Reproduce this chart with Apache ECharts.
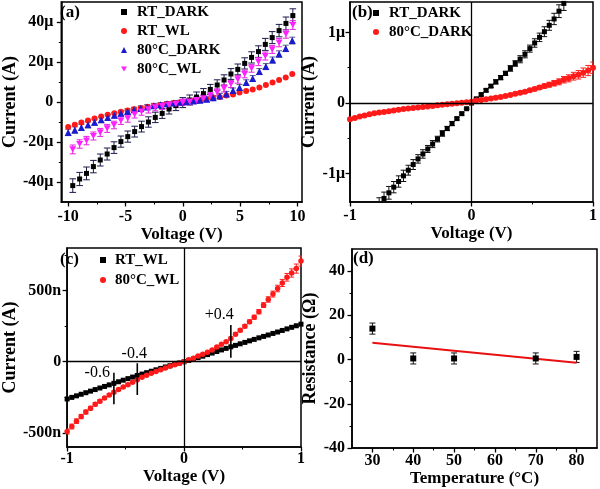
<!DOCTYPE html>
<html><head><meta charset="utf-8">
<script src="https://cdn.jsdelivr.net/npm/echarts@6.0.0/dist/echarts.min.js"></script>
<style>html,body{margin:0;padding:0;background:#fff}#c{width:600px;height:489px}</style>
</head><body><div id="c"></div>
<script>
// ---------- Panel (a) ----------
const voltsA_dark = [-9.6,-9.0,-8.4,-7.8,-7.2,-6.6,-6.0,-5.4,-4.8,-4.2,-3.6,-3.0,-2.4,-1.8,-1.2,-0.6,0,0.6,1.2,1.8,2.4,3.0,3.6,4.2,4.8,5.4,6.0,6.6,7.2,7.8,8.4,9.0,9.6];
const currA_rtDark = [-41.8,-38.5,-35.7,-32.3,-29,-26,-22.8,-19.8,-17.3,-14.8,-12.3,-10,-7.7,-5.7,-3.5,-1.8,-0.3,1.0,2.5,4.2,6.3,8.5,11,14,16.3,19.3,22.3,25.2,28.8,32.2,35.7,39.3,43.2];
const errA_rtDark = [3.4,3.3,3.2,3.1,3.0,3.0,2.9,2.8,2.8,2.7,2.7,2.6,2.6,2.5,2.5,2.5,2.5,2.5,2.5,2.5,2.5,2.6,2.6,2.7,2.7,2.8,2.8,2.9,3.0,3.0,3.1,3.2,3.4];
const currA_80WL = [-23.7,-21,-19.3,-17,-15.2,-13.2,-11.5,-9.3,-8.2,-6.2,-4.8,-3.7,-2.7,-2,-1.5,-1,-0.2,0.2,1,1.8,3.2,4.8,6.8,9,11.3,14,16.8,20.2,23,26.3,29.7,34,38.5];
const errA_80WL = [2.2,2.1,2.1,2.0,2.0,2.0,1.9,1.9,1.9,1.8,1.8,1.8,1.7,1.7,1.7,1.6,1.6,1.6,1.7,1.7,1.7,1.8,1.8,1.8,1.9,1.9,1.9,2.0,2.0,2.0,2.1,2.1,2.2];
const voltsA_wl = [-10,-9.42,-8.85,-8.27,-7.7,-7.12,-6.55,-5.97,-5.4,-4.82,-4.25,-3.67,-3.1,-2.52,-1.95,-1.37,-0.8,-0.22,0.35,0.93,1.5,2.08,2.65,3.23,3.8,4.38,4.95,5.53,6.1,6.68,7.25,7.83,8.4,8.98,9.55];
const currA_rtWL = [-12.5,-11.4,-10.3,-9.3,-8.3,-7.3,-6.4,-5.6,-4.9,-4.2,-3.6,-3.0,-2.5,-2.0,-1.5,-1.0,-0.6,-0.2,0.2,0.6,1.0,1.4,1.9,2.5,3.2,3.8,4.7,5.5,6.3,7.3,8.5,9.7,11.0,12.3,14.0];
const currA_80Dark = [-15.2,-14.0,-12.7,-11.4,-10.1,-8.9,-7.7,-6.6,-5.6,-4.7,-3.9,-3.2,-2.5,-1.9,-1.4,-0.9,-0.5,-0.1,0.2,0.5,0.9,1.4,2.1,3.0,4.0,5.7,7.3,9.7,11.8,15.2,17.7,21.0,24.0,26.8,30.7];
const errA_80Dark = [1.6,1.6,1.5,1.5,1.5,1.4,1.4,1.4,1.3,1.3,1.3,1.2,1.2,1.2,1.1,1.1,1.0,1.0,1.1,1.1,1.2,1.2,1.2,1.3,1.3,1.3,1.4,1.4,1.4,1.5,1.5,1.5,1.6,1.6,1.7];
const ticksA_x = [-10,-5,0,5,10], minorA_x = [-7.5,-2.5,2.5,7.5];
const ticksA_y = [-40,-20,0,20,40], minorA_y = [-30,-10,10,30];

// ---------- Panel (b) ----------
const voltsB_dark = [-0.76,-0.72,-0.68,-0.64,-0.6,-0.56,-0.52,-0.48,-0.44,-0.4,-0.36,-0.32,-0.28,-0.24,-0.2,-0.16,-0.12,-0.08,-0.04,0,0.04,0.08,0.12,0.16,0.2,0.24,0.28,0.32,0.36,0.4,0.44,0.48,0.52,0.56,0.6,0.64,0.68,0.72,0.76];
const currB_rtDark = [-1.44,-1.35,-1.27,-1.19,-1.11,-1.03,-0.95,-0.87,-0.79,-0.72,-0.65,-0.58,-0.51,-0.43,-0.36,-0.29,-0.22,-0.15,-0.08,0,0.06,0.12,0.18,0.24,0.30,0.36,0.42,0.49,0.56,0.62,0.69,0.77,0.85,0.93,1.01,1.10,1.19,1.30,1.41];
const errB_rtDark = [0.10,0.09,0.09,0.08,0.08,0.08,0.07,0.07,0.06,0.06,0.05,0.05,0.04,0.04,0.03,0.03,0.02,0.02,0.01,0.01,0.01,0.02,0.02,0.02,0.03,0.03,0.03,0.04,0.04,0.05,0.05,0.05,0.06,0.06,0.07,0.07,0.08,0.09,0.10];
const volts51 = [-1,-0.96,-0.92,-0.88,-0.84,-0.8,-0.76,-0.72,-0.68,-0.64,-0.6,-0.56,-0.52,-0.48,-0.44,-0.4,-0.36,-0.32,-0.28,-0.24,-0.2,-0.16,-0.12,-0.08,-0.04,0,0.04,0.08,0.12,0.16,0.2,0.24,0.28,0.32,0.36,0.4,0.44,0.48,0.52,0.56,0.6,0.64,0.68,0.72,0.76,0.8,0.84,0.88,0.92,0.96,1];
const currB_80Dark = [-0.23,-0.21,-0.19,-0.175,-0.16,-0.145,-0.135,-0.125,-0.115,-0.105,-0.095,-0.085,-0.078,-0.07,-0.062,-0.055,-0.047,-0.04,-0.032,-0.025,-0.018,-0.01,-0.003,0.005,0.012,0.02,0.035,0.045,0.055,0.065,0.075,0.085,0.10,0.115,0.13,0.145,0.16,0.18,0.20,0.22,0.24,0.26,0.28,0.30,0.33,0.35,0.38,0.40,0.43,0.46,0.50];
const errB_80Dark = [0.015,0.015,0.014,0.013,0.012,0.011,0.01,0.01,0.01,0.01,0.008,0.008,0.008,0.007,0.007,0.006,0.006,0.005,0.005,0.005,0.005,0.005,0.005,0.005,0.005,0.005,0.005,0.005,0.006,0.007,0.008,0.009,0.01,0.012,0.014,0.016,0.018,0.02,0.023,0.026,0.03,0.034,0.038,0.042,0.046,0.05,0.055,0.06,0.066,0.072,0.08];
const ticksB_x = [-1,0,1], minorB_x = [-0.5,0.5];
const ticksB_y = [-1,0,1], minorB_y = [-0.5,0.5];

// ---------- Panel (c) ----------
const currC_rtWL = [-262,-251,-240,-229,-218,-207,-196,-185,-174,-163,-152,-141,-130,-119,-108,-97,-87,-77,-67,-57,-47,-37,-28,-18,-9,0,9,19,29,39,50,61,72,83,94,105,115,126,136,147,157,168,178,188,199,209,220,231,242,253,264];
const currC_80WL = [-491,-456,-418,-386,-354,-327,-300,-278,-256,-234,-214,-195,-178,-162,-145,-127,-110,-96,-82,-69,-56,-44,-32,-21,-10,0,13,25,41,52,66,83,103,122,141,164,193,221,250,281,313,352,398,438,476,515,554,594,624,655,708];
const errC_80WL = [18,17,16,15,14,13,12,11,10,9,8,8,7,7,6,6,5,5,5,4,4,4,3,3,3,3,3,3,4,4,5,5,6,7,8,9,10,11,12,13,14,15,17,19,21,23,25,27,29,32,35];
const markVolts = [-0.6,-0.4,0.4];
const markLow = [-300,-234,28];
const markHigh = [-77,-11,258];
const markText = ['-0.6','-0.4','+0.4'];
const ticksC_x = [-1,0,1], minorC_x = [-0.5,0.5];
const ticksC_y = [-500,0,500], minorC_y = [-250,250,750];

// ---------- Panel (d) ----------
const tempD = [30,40,50,70,80];
const resD = [14,0.5,0.5,0.5,1.2];
const errD = [2.5,2.5,2.5,2.5,2.5];
const fitT = [30,80];
const fitR = [7.6,-1.4];
const ticksD_x = [30,40,50,60,70,80], minorD_x = [35,45,55,65,75];
const ticksD_y = [-40,-20,0,20,40], minorD_y = [-30,-10,10,30];

const crossV = 0, crossI = 0;

// ---------- styles / helpers ----------
const FONT = 'Liberation Serif';
const DOWN_TRI = 'path://M0,0L2,0L1,1.732Z';
const zip = (xs, ys) => xs.map((x, i) => [x, ys[i]]);
const errRows = (xs, ys, es) => xs.map((x, i) => [x, ys[i] - es[i], ys[i] + es[i]]);
const plainFmt = v => String(v);
const unitFmt = u => v => (v === 0 ? '0' : v + u);

function xAx(g, min, max, ticks, fmt, margin, name, gap) {
  return {type:'value', gridIndex:g, min, max, position:'bottom',
    name, nameLocation:'middle', nameGap:gap,
    nameTextStyle:{fontFamily:FONT, fontWeight:'bold', fontSize:17, color:'#000'},
    axisLine:{show:true, onZero:false, lineStyle:{color:'#000', width:1.5}},
    axisTick:{show:true, inside:false, length:4.5, lineStyle:{color:'#000', width:1.3}, customValues:ticks},
    axisLabel:{show:true, customValues:ticks, formatter:fmt, margin, fontFamily:FONT, fontWeight:'bold', fontSize:16, color:'#000'},
    splitLine:{show:false}};
}
function yAx(g, min, max, ticks, fmt, margin, name, gap) {
  return {type:'value', gridIndex:g, min, max, position:'left',
    name, nameLocation:'middle', nameGap:gap,
    nameTextStyle:{fontFamily:FONT, fontWeight:'bold', fontSize:18, color:'#000'},
    axisLine:{show:true, onZero:false, lineStyle:{color:'#000', width:1.5}},
    axisTick:{show:true, inside:false, length:4.5, lineStyle:{color:'#000', width:1.3}, customValues:ticks},
    axisLabel:{show:true, customValues:ticks, formatter:fmt, margin, fontFamily:FONT, fontWeight:'bold', fontSize:16, color:'#000'},
    splitLine:{show:false}};
}
function minorAx(g, min, max, ticks, pos) {
  return {type:'value', gridIndex:g, min, max, position:pos,
    axisLine:{show:false, onZero:false},
    axisTick:{show:true, inside:false, length:2.5, lineStyle:{color:'#000', width:1}, customValues:ticks},
    axisLabel:{show:false}, splitLine:{show:false}};
}
function errSeries(axis, rows, color, cap, width) {
  return {type:'custom', xAxisIndex:axis, yAxisIndex:axis, data:rows, clip:true, silent:true, z:1,
    encode:{x:0, y:[1,2]},
    renderItem:(p, api) => {
      const x = api.value(0);
      const a = api.coord([x, api.value(1)]), b = api.coord([x, api.value(2)]);
      const st = {stroke:color, lineWidth:width || 1};
      return {type:'group', children:[
        {type:'line', shape:{x1:a[0], y1:a[1], x2:b[0], y2:b[1]}, style:st},
        {type:'line', shape:{x1:a[0]-cap, y1:a[1], x2:a[0]+cap, y2:a[1]}, style:st},
        {type:'line', shape:{x1:b[0]-cap, y1:b[1], x2:b[0]+cap, y2:b[1]}, style:st}
      ]};
    }};
}
function scatter(axis, name, data, symbol, size, color, extra) {
  return Object.assign({type:'scatter', name, xAxisIndex:axis, yAxisIndex:axis, data, symbol, symbolSize:size,
    itemStyle:{color, opacity:1}, clip:true, z:3}, extra || {});
}
const crossMark = {silent:true, symbol:'none', animation:false, label:{show:false},
  lineStyle:{color:'#000', width:1.3, type:'solid'}, emphasis:{disabled:true},
  data:[{xAxis:crossV}, {yAxis:crossI}]};

const legendText = {fontFamily:FONT, fontWeight:'bold', fontSize:15, lineHeight:16, color:'#000'};
const legendFmt = n => n.split('|')[1];
const markStyle = [
  {dx:-4, dy:0, align:'right', va:'middle'},
  {dx:-3, dy:-1, align:'center', va:'bottom'},
  {dx:3, dy:-2, align:'right', va:'bottom'}
];

const option = {
  animation:false,
  backgroundColor:'#fff',
  textStyle:{fontFamily:FONT},
  title:[
    {text:'(a)', left:60, top:4, padding:0, textStyle:{fontFamily:FONT, fontWeight:'bold', fontSize:17, color:'#000'}},
    {text:'(b)', left:352, top:4, padding:0, textStyle:{fontFamily:FONT, fontWeight:'bold', fontSize:17, color:'#000'}},
    {text:'(c)', left:60, top:251, padding:0, textStyle:{fontFamily:FONT, fontWeight:'bold', fontSize:17, color:'#000'}},
    {text:'(d)', left:353, top:250, padding:0, textStyle:{fontFamily:FONT, fontWeight:'bold', fontSize:17, color:'#000'}}
  ],
  legend:[
    {data:['a|RT_DARK','a|RT_WL','a|80°C_DARK','a|80°C_WL'], orient:'vertical', left:121, top:4, padding:0,
     itemWidth:6, itemHeight:6, itemGap:3, formatter:legendFmt, selectedMode:false,
     textStyle:Object.assign({padding:[0,0,0,5]}, legendText)},
    {data:['b|RT_DARK','b|80°C_DARK'], orient:'vertical', left:373, top:5, padding:0,
     itemWidth:6, itemHeight:6, itemGap:3, formatter:legendFmt, selectedMode:false,
     textStyle:Object.assign({padding:[0,0,0,5]}, legendText)},
    {data:['c|RT_WL','c|80°C_WL'], orient:'vertical', left:100, top:252, padding:0,
     itemWidth:6, itemHeight:6, itemGap:4, formatter:legendFmt, selectedMode:false,
     textStyle:Object.assign({padding:[0,0,0,4]}, legendText)}
  ],
  grid:[
    {left:55, top:2, width:247, height:200, show:true, borderColor:'#000', borderWidth:1.5, backgroundColor:'transparent'},
    {left:350, top:2, width:243, height:200, show:true, borderColor:'#000', borderWidth:1.5, backgroundColor:'transparent'},
    {left:56, top:248, width:245, height:199, show:true, borderColor:'#000', borderWidth:1.5, backgroundColor:'transparent'},
    {left:352, top:249, width:245, height:199, show:true, borderColor:'#000', borderWidth:1.5, backgroundColor:'transparent'}
  ],
  xAxis:[
    xAx(0, -10.6, 10.4, ticksA_x, plainFmt, 7, 'Voltage (V)', 23),
    xAx(1, -1, 1, ticksB_x, plainFmt, 6, 'Voltage (V)', 23),
    xAx(2, -1, 1, ticksC_x, plainFmt, 4, 'Voltage (V)', 20),
    xAx(3, 25, 85, ticksD_x, plainFmt, 5, 'Temperature (°C)', 21),
    minorAx(0, -10.6, 10.4, minorA_x, 'bottom'),
    minorAx(1, -1, 1, minorB_x, 'bottom'),
    minorAx(2, -1, 1, minorC_x, 'bottom'),
    minorAx(3, 25, 85, minorD_x, 'bottom')
  ],
  yAxis:[
    yAx(0, -50, 50, ticksA_y, unitFmt('μ'), 8, 'Current (A)', 36),
    yAx(1, -1.4, 1.43, ticksB_y, unitFmt('μ'), 5, 'Current (A)', 29),
    yAx(2, -600, 800, ticksC_y, unitFmt('n'), 6, 'Current (A)', 35),
    yAx(3, -40, 50, ticksD_y, plainFmt, 7, 'Resistance (Ω)', 33),
    minorAx(0, -50, 50, minorA_y, 'left'),
    minorAx(1, -1.4, 1.43, minorB_y, 'left'),
    minorAx(2, -600, 800, minorC_y, 'left'),
    minorAx(3, -40, 50, minorD_y, 'left')
  ],
  series:[
    // (a)
    errSeries(0, errRows(voltsA_dark, currA_rtDark, errA_rtDark), '#1a1a4a', 3.3),
    scatter(0, 'a|RT_DARK', zip(voltsA_dark, currA_rtDark), 'rect', 5, '#000'),
    scatter(0, 'a|RT_WL', zip(voltsA_wl, currA_rtWL), 'circle', 6, '#ff1a1a'),
    errSeries(0, errRows(voltsA_wl, currA_80Dark, errA_80Dark), '#5a5a80', 3),
    scatter(0, 'a|80°C_DARK', zip(voltsA_wl, currA_80Dark), 'triangle', 7, '#1a1ad0'),
    errSeries(0, errRows(voltsA_dark, currA_80WL, errA_80WL), '#e020e0', 3),
    scatter(0, 'a|80°C_WL', zip(voltsA_dark, currA_80WL), DOWN_TRI, 7, '#ff22ff', {symbolKeepAspect:true}),
    // (b)
    errSeries(1, errRows(voltsB_dark, currB_rtDark, errB_rtDark), '#111', 2.8),
    scatter(1, 'b|RT_DARK', zip(voltsB_dark, currB_rtDark), 'rect', 5, '#000', {markLine:crossMark}),
    errSeries(1, errRows(volts51, currB_80Dark, errB_80Dark), '#ff2020', 2.8),
    scatter(1, 'b|80°C_DARK', zip(volts51, currB_80Dark), 'circle', 6, '#ff1a1a'),
    // (c)
    scatter(2, 'c|RT_WL', zip(volts51, currC_rtWL), 'rect', 5, '#000', {markLine:crossMark}),
    errSeries(2, errRows(volts51, currC_80WL, errC_80WL), '#ff2020', 2.5),
    scatter(2, 'c|80°C_WL', zip(volts51, currC_80WL), 'circle', 5.5, '#ff1a1a'),
    {type:'custom', xAxisIndex:2, yAxisIndex:2, silent:true, z:6, clip:false,
     data:markVolts.map((v, i) => [v, markLow[i], markHigh[i], i]),
     encode:{x:0, y:[1,2]},
     renderItem:(p, api) => {
       const i = api.value(3);
       const a = api.coord([api.value(0), api.value(1)]), b = api.coord([api.value(0), api.value(2)]);
       const s = markStyle[i];
       return {type:'group', children:[
         {type:'line', shape:{x1:a[0], y1:a[1], x2:b[0], y2:b[1]}, style:{stroke:'#000', lineWidth:1.6}},
         {type:'text', x:b[0] + s.dx, y:b[1] + s.dy,
          style:{text:markText[i], font:'16px "Liberation Serif"', fill:'#000', align:s.align, verticalAlign:s.va}}
       ]};
     }},
    // (d)
    {type:'line', xAxisIndex:3, yAxisIndex:3, data:zip(fitT, fitR), symbol:'none', silent:true,
     lineStyle:{color:'#e81010', width:2}, z:2},
    errSeries(3, errRows(tempD, resD, errD), '#111', 3),
    scatter(3, 'd|R', zip(tempD, resD), 'rect', 6, '#000')
  ]
};

const chart = echarts.init(document.getElementById('c'), null, {renderer:'canvas'});
chart.setOption(option);
</script>
</body></html>
